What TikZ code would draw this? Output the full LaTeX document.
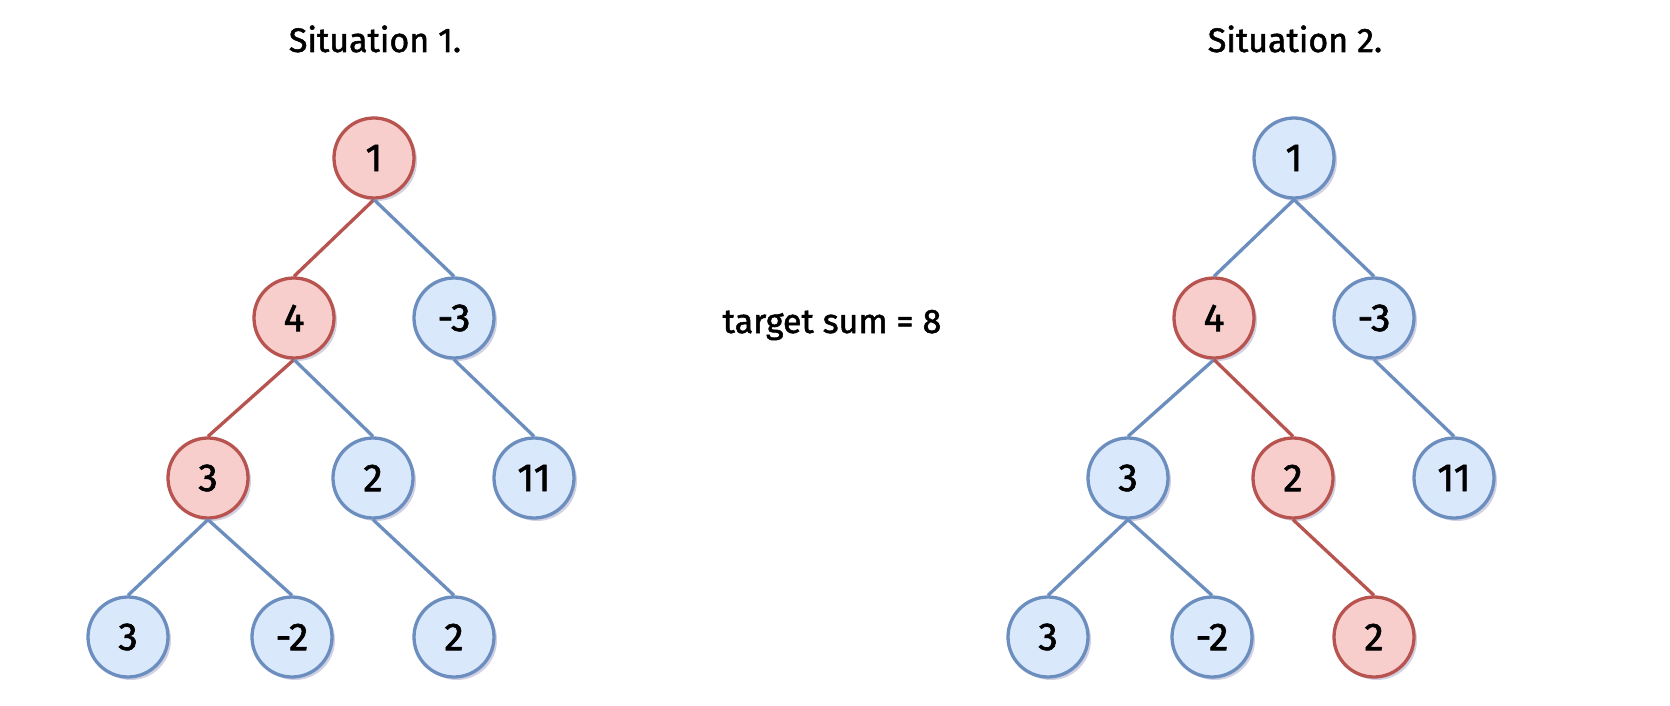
\documentclass[tikz,border=0pt]{standalone}
\usepackage{fontspec}
\setmainfont{Fira Sans}
\newfontfamily\cfont{Fira Sans}[FakeBold=1.5]
\usetikzlibrary{shadows}
\definecolor{rfill}{HTML}{F8CECC}
\definecolor{rline}{HTML}{B85450}
\definecolor{bfill}{HTML}{DAE8FC}
\definecolor{bline}{HTML}{6C8EBF}
\tikzset{
  tn/.style={circle, minimum size=80pt, inner sep=0pt, line width=3.3pt,
    font=\cfont\fontsize{39}{42}\selectfont,
    drop shadow={shadow xshift=3pt, shadow yshift=-3pt, fill=black!60!blue, opacity=0.18}},
  rn/.style={tn, draw=rline, fill=rfill},
  bn/.style={tn, draw=bline, fill=bfill},
  re/.style={draw=rline, line width=3.3pt},
  be/.style={draw=bline, line width=3.3pt},
  ttl/.style={font=\cfont\fontsize{34}{40}\selectfont, anchor=base},
}
\begin{document}
\begin{tikzpicture}[x=1pt,y=-1pt]
\useasboundingbox[fill=white] (0,0) rectangle (1670,706);
% titles
\node[ttl] (t1) at (375,52) {Situation 1.};
\node[ttl] (t2) at (1295,52) {Situation 2.};
\node[ttl] (ts) at (832,333) {target sum = 8};
% left tree
\node[rn] (a1) at (374,158) {1};
\node[rn] (a4) at (294,318) {4};
\node[bn] (am3) at (454,318) {-3};
\node[rn] (a3) at (208,478) {3};
\node[bn] (a2) at (373,478) {2};
\node[bn] (a11) at (534,478) {11};
\node[bn] (ab3) at (128,637) {3};
\node[bn] (abm2) at (292,637) {-2};
\node[bn] (ab2) at (454,637) {2};
% right tree
\node[bn] (b1) at (1294,158) {1};
\node[rn] (b4) at (1214,318) {4};
\node[bn] (bm3) at (1374,318) {-3};
\node[bn] (b3) at (1128,478) {3};
\node[rn] (b2) at (1293,478) {2};
\node[bn] (b11) at (1454,478) {11};
\node[bn] (bb3) at (1048,637) {3};
\node[bn] (bbm2) at (1212,637) {-2};
\node[rn] (bb2) at (1374,637) {2};
% left edges
\draw[re] (a1.south) -- (a4.north);
\draw[be] (a1.south) -- (am3.north);
\draw[re] (a4.south) -- (a3.north);
\draw[be] (a4.south) -- (a2.north);
\draw[be] (am3.south) -- (a11.north);
\draw[be] (a3.south) -- (ab3.north);
\draw[be] (a3.south) -- (abm2.north);
\draw[be] (a2.south) -- (ab2.north);
% right edges
\draw[be] (b1.south) -- (b4.north);
\draw[be] (b1.south) -- (bm3.north);
\draw[be] (b4.south) -- (b3.north);
\draw[re] (b4.south) -- (b2.north);
\draw[be] (bm3.south) -- (b11.north);
\draw[be] (b3.south) -- (bb3.north);
\draw[be] (b3.south) -- (bbm2.north);
\draw[re] (b2.south) -- (bb2.north);
\end{tikzpicture}
\end{document}
